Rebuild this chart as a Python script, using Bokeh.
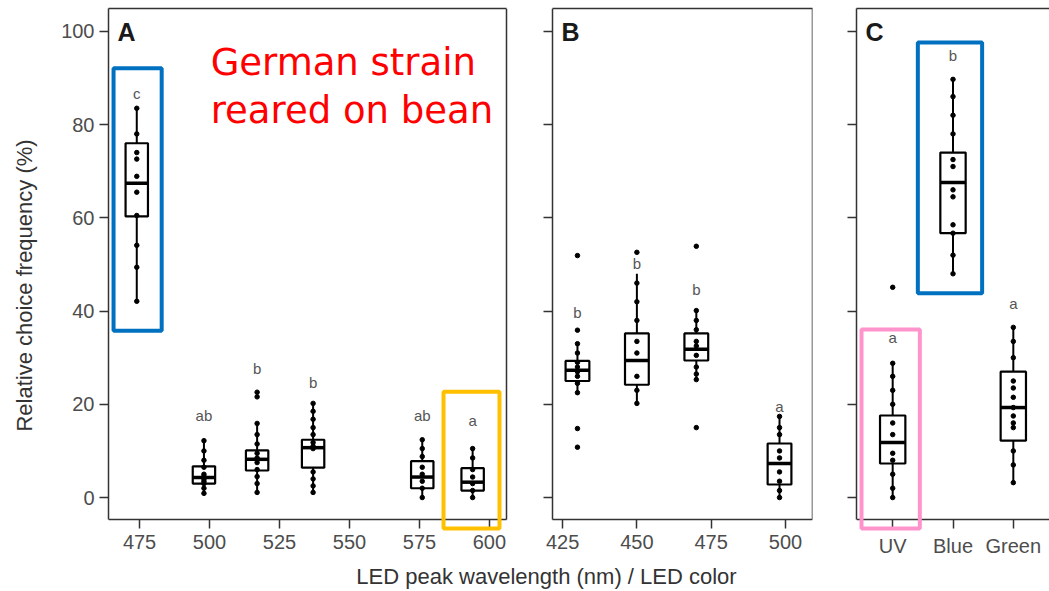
from bokeh.plotting import figure
from bokeh.models import Range1d, FixedTicker, LinearAxis, BoxAnnotation, Label, ColumnDataSource
from bokeh.layouts import row, column
from bokeh.embed import file_html
from bokeh.resources import INLINE
from bokeh.core.properties import value

# ---------------- data ----------------
# Panel A: LED peak wavelength (nm)
a_wavelength = [474, 498, 517, 537, 576, 594]
a_lower = [42.1, 0.9, 1.1, 1.1, 0.0, 0.0]
a_q1 = [60.3, 3.0, 5.8, 6.4, 2.0, 1.5]
a_median = [67.4, 4.3, 8.2, 10.7, 4.4, 3.3]
a_q3 = [76.0, 6.7, 10.1, 12.4, 7.8, 6.3]
a_upper = [83.5, 12.2, 15.9, 20.2, 12.4, 10.5]
a_letters = ["c", "ab", "b", "b", "ab", "a"]
a_letter_y = [86.6, 17.6, 27.7, 24.7, 17.6, 16.5]
a_points = [
    [83.5, 78.0, 74.0, 72.6, 68.9, 65.5, 60.5, 54.1, 49.4, 42.1],
    [12.2, 10.0, 8.0, 6.5, 5.0, 4.5, 4.0, 3.5, 3.0, 2.0, 0.9],
    [22.6, 21.6, 15.9, 13.5, 11.5, 9.5, 8.5, 7.5, 6.0, 4.5, 3.0, 1.1],
    [20.2, 18.5, 16.8, 15.0, 13.5, 11.8, 11.0, 10.5, 5.5, 4.0, 2.5, 1.1],
    [12.4, 10.5, 8.8, 6.5, 5.0, 3.5, 2.0, 0.0],
    [10.5, 8.5, 6.0, 4.4, 3.0, 1.5, 0.0],
]

# Panel B: LED peak wavelength (nm)
b_wavelength = [430, 450, 470, 498]
b_lower = [22.5, 20.2, 25.3, 0.0]
b_q1 = [25.0, 24.2, 29.4, 2.8]
b_median = [27.3, 29.4, 31.8, 7.3]
b_q3 = [29.3, 35.2, 35.2, 11.6]
b_upper = [33.0, 48.0, 40.1, 17.4]
b_letters = ["b", "b", "b", "a"]
b_letter_y = [39.7, 50.2, 44.6, 19.5]
b_points = [
    [51.9, 35.9, 33.0, 31.0, 29.0, 28.0, 27.0, 26.0, 24.5, 22.5, 14.8, 10.8],
    [52.6, 46.0, 42.0, 38.0, 33.5, 31.0, 26.0, 23.0, 20.2],
    [53.9, 40.1, 38.0, 36.0, 33.5, 32.5, 30.5, 28.0, 26.5, 25.3, 15.0],
    [17.4, 15.0, 13.5, 10.0, 8.5, 5.5, 3.5, 1.5, 0.0],
]

# Panel C: LED color
c_colors = ["UV", "Blue", "Green"]
c_lower = [0.0, 48.0, 3.2]
c_q1 = [7.3, 56.7, 12.2]
c_median = [11.8, 67.6, 19.3]
c_q3 = [17.6, 74.0, 27.0]
c_upper = [28.8, 89.7, 36.5]
c_letters = ["a", "b", "a"]
c_letter_y = [34.3, 94.8, 41.6]
c_points = [
    [45.1, 28.8, 26.0, 23.0, 20.0, 16.0, 13.5, 9.5, 8.0, 5.0, 2.0, 0.0],
    [89.7, 86.0, 82.0, 78.0, 72.5, 71.0, 66.0, 64.5, 58.5, 56.7, 52.0, 48.0],
    [36.5, 33.5, 30.0, 25.0, 23.5, 21.5, 19.3, 17.5, 16.0, 15.0, 10.0, 7.0, 3.2],
]

y_ticks = [0, 20, 40, 60, 80, 100]
a_ticks = [475, 500, 525, 550, 575, 600]
b_ticks = [425, 450, 475, 500]

# ---------------- styling ----------------
FONT = "Liberation Sans"
AXIS_COL = "#333333"
LABEL_COL = "#4d4d4d"
PANEL_Y = (-4.7, 104.9)      # extent of each framed panel
VIEW_Y = (-13.93, 104.9)     # drawable area incl. room under the axis for ticks and highlights
FIG_H = 562


def border_axis(**kw):
    return LinearAxis(ticker=FixedTicker(ticks=[]), axis_line_color=AXIS_COL, axis_line_width=1.5,
                      major_tick_line_color=None, minor_tick_line_color=None,
                      major_label_text_font_size="0px", **kw)


def make_panel(width, left, right, panel_x, view_x, ticks, show_ylabels, overrides=None,
               right_border=True, y_fixed=False):
    p = figure(width=width, height=FIG_H, x_range=Range1d(*view_x), y_range=Range1d(*VIEW_Y),
               output_backend="svg", toolbar_location=None,
               min_border_left=left, min_border_right=right, min_border_top=8, min_border_bottom=0)
    p.xgrid.visible = False
    p.ygrid.visible = False
    p.background_fill_color = "white"
    p.border_fill_color = "white"
    p.outline_line_color = None
    xa, ya = p.xaxis[0], p.yaxis[0]
    for ax in (xa, ya):
        ax.axis_line_color = AXIS_COL
        ax.axis_line_width = 1.5
        ax.major_tick_line_color = AXIS_COL
        ax.major_tick_line_width = 1.5
        ax.major_tick_out = 9
        ax.major_tick_in = 0
        ax.minor_tick_line_color = None
        ax.major_label_text_font = FONT
        ax.major_label_text_font_size = "20px"
        ax.major_label_text_color = LABEL_COL
    xa.major_label_standoff = 7
    ya.major_label_standoff = 5
    xa.fixed_location = PANEL_Y[0]
    xa.bounds = panel_x
    xa.ticker = FixedTicker(ticks=ticks)
    if overrides:
        xa.major_label_overrides = overrides
    ya.bounds = PANEL_Y
    ya.ticker = FixedTicker(ticks=y_ticks)
    if y_fixed:
        ya.fixed_location = panel_x[0]
    if not show_ylabels:
        ya.major_label_overrides = {t: "" for t in y_ticks}
    p.add_layout(border_axis(bounds=panel_x), "above")
    if right_border:
        p.add_layout(border_axis(bounds=PANEL_Y, fixed_location=panel_x[1]), "right")
    return p


def draw_boxes(p, xs, lower, q1, med, q3, upper, points, letters, letter_y, box_w):
    src = ColumnDataSource(dict(
        x=xs, lower=lower, q1=q1, med=med, q3=q3, upper=upper,
        left=[x - box_w / 2 for x in xs], right=[x + box_w / 2 for x in xs],
        letters=letters, ly=letter_y))
    p.segment(x0="x", y0="upper", x1="x", y1="q3", source=src, line_color="black", line_width=2)
    p.segment(x0="x", y0="q1", x1="x", y1="lower", source=src, line_color="black", line_width=2)
    p.quad(left="left", right="right", bottom="q1", top="q3", source=src,
           fill_color="white", line_color="black", line_width=2.2)
    p.segment(x0="left", y0="med", x1="right", y1="med", source=src, line_color="black", line_width=3.5)
    px, py = [], []
    for x, pts in zip(xs, points):
        px += [x] * len(pts)
        py += pts
    p.scatter(px, py, size=4.5, color="black")
    p.text(x="x", y="ly", text="letters", source=src, text_align="center", text_baseline="middle",
           text_font=value(FONT), text_font_size="15px", text_color="#555555")


def panel_letter(p, x0, letter):
    p.add_layout(Label(x=x0, y=PANEL_Y[1], x_offset=9, y_offset=-23,
                       text=letter, text_font=FONT, text_font_style="bold",
                       text_font_size="25px", text_color="#1a1a1a", text_baseline="alphabetic"))


def highlight(p, left, right, bottom, top, color):
    p.add_layout(BoxAnnotation(left=left, right=right, bottom=bottom, top=top,
                               fill_color=None, fill_alpha=0, line_color=color, line_width=4,
                               line_alpha=1))


def widen(panel_x, frame_px, pad_left_px=0, pad_right_px=0):
    per_px = (panel_x[1] - panel_x[0]) / frame_px
    return (panel_x[0] - pad_left_px * per_px, panel_x[1] + pad_right_px * per_px)


# ---- Panel A ----
a_panel = (463.9, 606.1)
pa = make_panel(520, 108, 6, a_panel, widen(a_panel, 398, 0, 8), a_ticks, True)
ytitle = LinearAxis(ticker=FixedTicker(ticks=[]), axis_line_color=None, major_tick_line_color=None,
                    minor_tick_line_color=None, major_label_text_font_size="0px",
                    axis_label="Relative choice frequency (%)", axis_label_text_font=FONT,
                    axis_label_text_font_size="22px", axis_label_text_font_style="normal",
                    axis_label_text_color=AXIS_COL, axis_label_standoff=22)
pa.add_layout(ytitle, "left")
draw_boxes(pa, a_wavelength, a_lower, a_q1, a_median, a_q3, a_upper, a_points,
           a_letters, a_letter_y, 8)
panel_letter(pa, a_panel[0], "A")
highlight(pa, 465.7, 482.9, 35.8, 92.1, "#0070c0")
highlight(pa, 583.6, 603.6, -6.65, 22.7, "#ffc000")
for txt, yy in (("German strain", 93.3), ("reared on bean", 83.0)):
    pa.add_layout(Label(x=500.4, y=yy, text=txt, text_font="DejaVu Sans", text_font_size="37px",
                        text_color="#ff0000", text_baseline="alphabetic"))

# ---- Panel B ----
b_panel = (421.6, 509.1)
pb = make_panel(310, 10, 18, b_panel, widen(b_panel, 260, 22, 0), b_ticks, False, y_fixed=True)
draw_boxes(pb, b_wavelength, b_lower, b_q1, b_median, b_q3, b_upper, b_points,
           b_letters, b_letter_y, 8)
panel_letter(pb, b_panel[0], "B")

# ---- Panel C ----
c_panel = (0.4, 3.6)
c_pos = [i + 1 for i in range(len(c_colors))]
pc = make_panel(219, 26, 0, c_panel, c_panel, c_pos, False,
                overrides={i + 1: c for i, c in enumerate(c_colors)}, right_border=False)
draw_boxes(pc, c_pos, c_lower, c_q1, c_median, c_q3, c_upper, c_points,
           c_letters, c_letter_y, 0.42)
panel_letter(pc, c_panel[0], "C")
highlight(pc, 1.417, 2.483, 43.8, 97.6, "#0070c0")
highlight(pc, 0.483, 1.45, -6.65, 36.05, "#ff94cc")

# ---- shared x-axis title ----
pt = figure(width=1049, height=591 - FIG_H, x_range=Range1d(0, 1049), y_range=Range1d(0, 591 - FIG_H),
            output_backend="svg", toolbar_location=None, min_border=0)
pt.axis.visible = False
pt.grid.visible = False
pt.outline_line_color = None
pt.add_layout(Label(x=546, y=14.6, text="LED peak wavelength (nm) / LED color", text_font=FONT,
                    text_font_size="22px", text_color=AXIS_COL, text_align="center",
                    text_baseline="middle"))

layout = column(row(pa, pb, pc, spacing=0), pt, spacing=0)
open("out.html", "w").write(file_html(layout, INLINE))
